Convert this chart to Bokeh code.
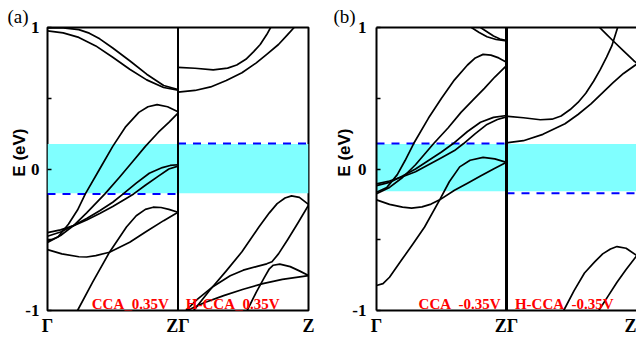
from bokeh.plotting import figure
from bokeh.models import Range1d, FixedTicker, LinearAxis, Span, Title
from bokeh.layouts import row
from bokeh.embed import file_html
from bokeh.resources import INLINE
from bokeh.core.properties import value

# ---------------- data (k in units of Gamma->Z, E in eV) ----------------
x_ticks = [0, 1, 2]
x_tick_labels = ["Γ", "ZΓ", "Z"]
y_ticks = [-1.0, -0.5, 0.0, 0.5, 1.0]
y_tick_labels = ["-1", "", "0", "", "1"]

# panel (a), left: CCA_0.35V
a_cca_1 = [(0, 0.976), (0.12, 0.962), (0.24, 0.93), (0.37, 0.87), (0.5, 0.79), (0.63, 0.705), (0.76, 0.63), (0.89, 0.576), (1, 0.557)]
a_cca_2 = [(0, 0.998), (0.12, 0.997), (0.24, 0.985), (0.32, 0.96), (0.4, 0.92), (0.5, 0.855), (0.63, 0.765), (0.76, 0.67), (0.89, 0.59), (1, 0.562)]
a_cca_3 = [(0, -0.51), (0.08, -0.48), (0.16, -0.39), (0.23, -0.29), (0.29, -0.176), (0.4, 0.0), (0.5, 0.16), (0.6, 0.30), (0.7, 0.40), (0.77, 0.44), (0.84, 0.455), (0.92, 0.44), (1, 0.405)]
a_cca_4 = [(0, -0.52), (0.1, -0.47), (0.2, -0.40), (0.3, -0.31), (0.44, -0.176), (0.55, -0.06), (0.65, 0.05), (0.75, 0.16), (0.85, 0.26), (0.93, 0.33), (1, 0.395)]
a_cca_5 = [(0, -0.475), (0.1, -0.445), (0.2, -0.40), (0.3, -0.35), (0.4, -0.295), (0.5, -0.235), (0.58, -0.176), (0.68, -0.10), (0.78, -0.03), (0.88, 0.01), (0.94, 0.025), (1, 0.03)]
a_cca_6 = [(0, -0.45), (0.1, -0.43), (0.2, -0.40), (0.3, -0.36), (0.4, -0.315), (0.5, -0.265), (0.6, -0.21), (0.66, -0.176), (0.75, -0.115), (0.85, -0.05), (0.93, 0.0), (1, 0.02)]
a_cca_7 = [(0, -0.57), (0.11, -0.60), (0.24, -0.62), (0.3, -0.622), (0.37, -0.612), (0.475, -0.588), (0.63, -0.518), (0.76, -0.44), (0.89, -0.365), (1, -0.306)]
a_cca_8 = [(0.23, -1.0), (0.346, -0.80), (0.475, -0.588), (0.605, -0.41), (0.68, -0.33), (0.75, -0.285), (0.81, -0.27), (0.87, -0.272), (0.93, -0.285), (1, -0.306)]

# panel (a), right: H-CCA_0.35V
a_hcca_1 = [(0, 0.718), (0.13, 0.712), (0.27, 0.70), (0.38, 0.713), (0.45, 0.735), (0.52, 0.775), (0.58, 0.83), (0.63, 0.88), (0.68, 0.95), (0.71, 1.0)]
a_hcca_2 = [(0, 0.543), (0.13, 0.555), (0.25, 0.58), (0.37, 0.625), (0.49, 0.68), (0.6, 0.75), (0.68, 0.81), (0.77, 0.88), (0.84, 0.95), (0.89, 1.0)]
a_hcca_3 = [(0.12, -1.0), (0.24, -0.86), (0.37, -0.72), (0.49, -0.585), (0.62, -0.41), (0.70, -0.31), (0.76, -0.245), (0.82, -0.205), (0.87, -0.19), (0.93, -0.2), (1, -0.25)]
a_hcca_4 = [(0.06, -1.0), (0.15, -0.92), (0.27, -0.83), (0.4, -0.755), (0.5, -0.715), (0.6, -0.69), (0.68, -0.67), (0.72, -0.655), (0.77, -0.6), (0.84, -0.5), (0.92, -0.38), (1, -0.255)]
a_hcca_5 = [(0.53, -1.0), (0.6, -0.87), (0.66, -0.77), (0.7, -0.705), (0.73, -0.68), (0.78, -0.672), (0.86, -0.69), (0.93, -0.72), (1, -0.753)]
a_hcca_6 = [(0.07, -1.0), (0.2, -0.945), (0.35, -0.895), (0.5, -0.85), (0.65, -0.81), (0.8, -0.78), (1, -0.753)]

# panel (b), left: CCA_-0.35V
b_cca_1 = [(0.73, 1.0), (0.79, 0.965), (0.85, 0.935), (0.92, 0.915), (1, 0.905)]
b_cca_2 = [(0.8, 1.0), (0.85, 0.97), (0.9, 0.94), (0.95, 0.918), (1, 0.908)]
b_cca_3 = [(0, -0.165), (0.08, -0.13), (0.16, -0.04), (0.22, 0.06), (0.286, 0.18), (0.4, 0.36), (0.5, 0.50), (0.6, 0.63), (0.7, 0.735), (0.76, 0.785), (0.82, 0.81), (0.88, 0.805), (0.94, 0.785), (1, 0.755)]
b_cca_4 = [(0, -0.175), (0.1, -0.13), (0.2, -0.06), (0.3, 0.03), (0.44, 0.18), (0.55, 0.29), (0.65, 0.40), (0.745, 0.49), (0.83, 0.57), (0.91, 0.65), (1, 0.73)]
b_cca_5 = [(0, -0.117), (0.1, -0.095), (0.2, -0.05), (0.3, 0.0), (0.4, 0.06), (0.5, 0.12), (0.59, 0.18), (0.7, 0.265), (0.8, 0.33), (0.9, 0.365), (1, 0.378)]
b_cca_6 = [(0, -0.105), (0.1, -0.085), (0.2, -0.055), (0.3, -0.02), (0.4, 0.03), (0.5, 0.08), (0.6, 0.13), (0.67, 0.18), (0.76, 0.25), (0.85, 0.315), (0.93, 0.35), (1, 0.368)]
b_cca_7 = [(0, -0.218), (0.1, -0.25), (0.2, -0.27), (0.27, -0.276), (0.35, -0.268), (0.42, -0.248), (0.486, -0.218), (0.6, -0.15), (0.7, -0.1), (0.8, -0.05), (0.9, 0.0), (1, 0.047)]
b_cca_8 = [(0, -0.823), (0.05, -0.81), (0.1, -0.765), (0.19, -0.647), (0.28, -0.53), (0.37, -0.41), (0.486, -0.218), (0.56, -0.09), (0.64, 0.015), (0.72, 0.062), (0.82, 0.082), (0.91, 0.072), (1, 0.047)]

# panel (b), right: H-CCA_-0.35V
b_hcca_1 = [(0, 0.373), (0.13, 0.362), (0.26, 0.348), (0.35, 0.352), (0.42, 0.375), (0.49, 0.42), (0.55, 0.47), (0.61, 0.535), (0.67, 0.62), (0.72, 0.70), (0.77, 0.79), (0.81, 0.87), (0.855, 1.0)]
b_hcca_2 = [(0, 0.185), (0.13, 0.2), (0.28, 0.245), (0.45, 0.32), (0.55, 0.385), (0.65, 0.46), (0.74, 0.54), (0.82, 0.61), (0.9, 0.675), (1, 0.74)]
b_hcca_3 = [(0.716, 1.0), (0.76, 0.96), (0.817, 0.908), (0.9, 0.835), (0.977, 0.767), (1, 0.75)]
b_hcca_4 = [(0.44, -1.0), (0.52, -0.86), (0.6, -0.735), (0.68, -0.655), (0.74, -0.6), (0.8, -0.565), (0.85, -0.548), (0.92, -0.56), (1, -0.61)]
b_hcca_5 = [(0.71, -1.0), (0.78, -0.9), (0.85, -0.8), (0.92, -0.71), (1, -0.615)]

# shaded window and dashed levels
band_a = (-0.172, 0.176)
band_b = (-0.158, 0.176)
dash_a_left, dash_a_right = -0.176, 0.181
dash_b_left, dash_b_right = 0.181, -0.172

labels_a = ("CCA_0.35V", "H-CCA_0.35V")
labels_b = ("CCA_-0.35V", "H-CCA_-0.35V")
y_label = "E (eV)"

SERIF = "Liberation Serif"
SANS = "Liberation Sans"


def make_panel(width, border_left, border_right, std_y, use_outline, tag, tag_offset, ylab_standoff):
    p = figure(width=width, height=339, x_range=Range1d(0, 2), y_range=Range1d(-1, 1),
               output_backend="svg", toolbar_location=None,
               min_border_left=border_left, min_border_right=border_right,
               min_border_top=27, min_border_bottom=29,
               background_fill_color="white", border_fill_color="white",
               title=tag)
    p.title.text_font = SERIF
    p.title.text_font_style = "normal"
    p.title.text_font_size = "19px"
    p.title.text_color = "black"
    p.title.align = "left"
    p.title.offset = tag_offset
    p.title.standoff = 1
    p.grid.visible = False
    if use_outline:
        p.outline_line_color = "black"
        p.outline_line_width = 2
    else:
        p.outline_line_color = None
    yax = p.yaxis[0]
    yax.ticker = FixedTicker(ticks=y_ticks)
    yax.major_label_overrides = {t: s for t, s in zip(y_ticks, y_tick_labels)}
    yax.major_tick_in = 4
    yax.major_tick_out = 0
    yax.major_tick_line_width = 1.5
    yax.minor_tick_line_color = None
    yax.major_label_standoff = std_y
    yax.major_label_text_font = SERIF
    yax.major_label_text_font_style = "bold"
    yax.major_label_text_font_size = "17px"
    yax.major_label_text_color = "black"
    # rotated y-axis title, placed near the upper half of the axis as in the figure
    ytitle = Title(text=y_label, align="right", offset=101, vertical_align="bottom", standoff=ylab_standoff,
                   text_font=SANS, text_font_style="bold", text_font_size="17px", text_color="black")
    p.add_layout(ytitle, "left")
    xax = p.xaxis[0]
    xax.ticker = FixedTicker(ticks=x_ticks)
    xax.major_label_overrides = {t: s for t, s in zip(x_ticks, x_tick_labels)}
    xax.major_tick_in = 0
    xax.major_tick_out = 0
    xax.minor_tick_line_color = None
    xax.major_label_standoff = 5
    xax.major_label_text_font = SERIF
    xax.major_label_text_font_style = "bold"
    xax.major_label_text_font_size = "18px"
    xax.major_label_text_color = "black"
    if use_outline:
        yax.axis_line_color = None
        xax.axis_line_color = None
    else:
        yax.axis_line_width = 2
        xax.axis_line_width = 2
        top = LinearAxis(ticker=FixedTicker(ticks=[]), axis_line_width=2,
                         major_tick_out=0, major_tick_in=0, minor_tick_line_color=None,
                         major_label_standoff=0)
        p.add_layout(top, "above")
    return p


def draw(p, band, dash_l, dash_r, left_bands, right_bands, labels, lx_left, lx_right, div_w):
    p.quad(left=[0], right=[2], bottom=[band[0]], top=[band[1]], fill_color="#80ffff", line_color=None)
    p.line([0, 1], [dash_l, dash_l], line_color="#0000ff", line_width=2, line_dash="8 7")
    p.line([1, 2], [dash_r, dash_r], line_color="#0000ff", line_width=2, line_dash="8 7")
    for off, bands in ((0, left_bands), (1, right_bands)):
        for b in bands:
            p.line([off + k for k, _ in b], [e for _, e in b], line_color="black",
                   line_width=1.7, line_join="round")
    p.add_layout(Span(location=1, dimension="height", line_color="black", line_width=div_w))
    p.text(x=[lx_left], y=[-0.955], text=[labels[0]], text_align="right", text_baseline="alphabetic",
           text_color="#ff0000", text_font=value(SERIF), text_font_style="bold", text_font_size="15px")
    p.text(x=[lx_right], y=[-0.955], text=[labels[1]], text_align="left", text_baseline="alphabetic",
           text_color="#ff0000", text_font=value(SERIF), text_font_style="bold", text_font_size="15px")


pa = make_panel(318, 47, 10, 8, True, "(a)", -40, -12)
draw(pa, band_a, dash_a_left, dash_a_right,
     [a_cca_1, a_cca_2, a_cca_3, a_cca_4, a_cca_5, a_cca_6, a_cca_7, a_cca_8],
     [a_hcca_1, a_hcca_2, a_hcca_3, a_hcca_4, a_hcca_5, a_hcca_6],
     labels_a, 0.93, 1.06, 2)

pb = make_panel(318, 58, 0, 10, False, "(b)", -43, -8)
draw(pb, band_b, dash_b_left, dash_b_right,
     [b_cca_1, b_cca_2, b_cca_3, b_cca_4, b_cca_5, b_cca_6, b_cca_7, b_cca_8],
     [b_hcca_1, b_hcca_2, b_hcca_3, b_hcca_4, b_hcca_5],
     labels_b, 0.955, 1.065, 3)

layout = row(pa, pb)
open("out.html", "w").write(file_html(layout, INLINE))
